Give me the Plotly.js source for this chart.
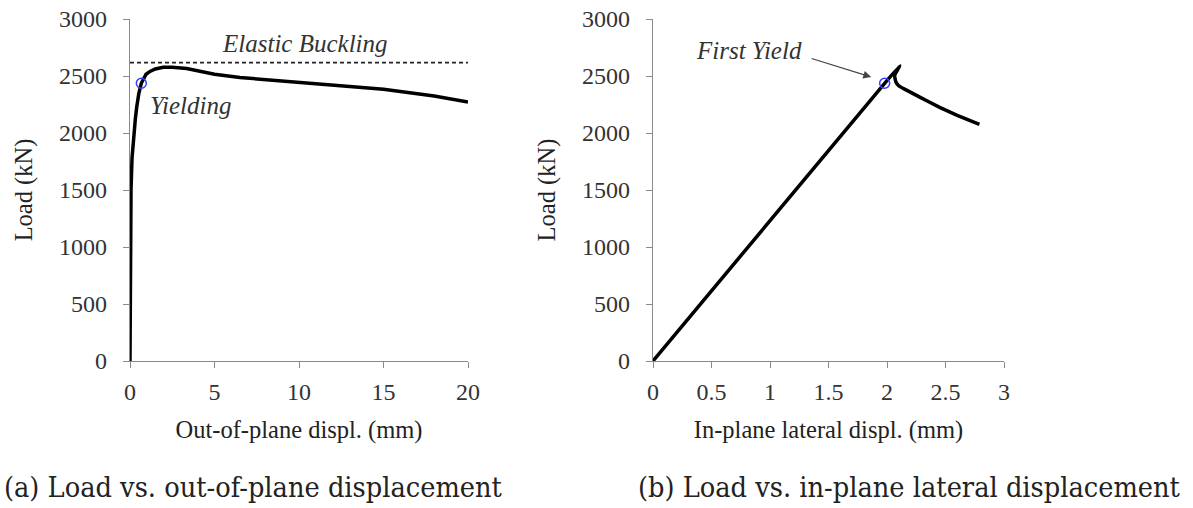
<!DOCTYPE html>
<html><head><meta charset="utf-8">
<script src="https://cdn.plot.ly/plotly-3.0.1.min.js"></script>
<style>html,body{margin:0;padding:0;background:#fff}#c{width:1193px;height:508px}</style>
</head><body><div id="c"></div>
<script>
// Left panel: load vs out-of-plane displacement
const outPlaneDispl = [0, 0.01, 0.03, 0.06, 0.12, 0.18, 0.24, 0.32, 0.4, 0.52, 0.67, 0.8, 0.95, 1.18, 1.5, 1.97, 2.5, 3.35, 4.2, 5, 6.5, 8, 10, 12, 15, 18, 20];
const outPlaneLoad  = [0, 600, 1100, 1500, 1780, 1910, 2000, 2130, 2230, 2345, 2436, 2480, 2515, 2540, 2562, 2577, 2576, 2566, 2540, 2515, 2487, 2468, 2448, 2423, 2383, 2325, 2272];
const elasticBucklingX = [0, 20];
const elasticBucklingLoad = [2617, 2617];
const yieldOutX = [0.67], yieldOutLoad = [2436];

// Right panel: load vs in-plane lateral displacement
const inPlaneDispl = [0, 1.98, 2.11, 2.065, 2.075, 2.1, 2.15, 2.28, 2.45, 2.6, 2.79];
const inPlaneLoad  = [0, 2436, 2590, 2505, 2450, 2415, 2385, 2315, 2225, 2155, 2075];
const yieldInX = [1.98], yieldInLoad = [2436];

const xTicksLeft = [0, 5, 10, 15, 20];
const xTicksRight = [0, 0.5, 1, 1.5, 2, 2.5, 3];
const yTicks = [0, 500, 1000, 1500, 2000, 2500, 3000];

const W = 1193, H = 508;
const serif = 'Liberation Serif';
const capFont = 'DejaVu Serif Condensed';
const axisGray = '#8a8a8a';
const tickFont = {family: serif, size: 24, color: '#333'};
const titleFont = {family: serif, size: 24.5, color: '#222'};
const noteFont = {family: serif, size: 25, color: '#333'};

const curve = {color: '#000', width: 3.5};
const marker = {symbol: 'circle-open', size: 10, color: '#3a3aff', line: {width: 1.5}};

const traces = [
  {x: elasticBucklingX, y: elasticBucklingLoad, mode: 'lines', line: {color: '#222', width: 1.6, dash: '4px,3px'}, xaxis: 'x', yaxis: 'y'},
  {x: outPlaneDispl, y: outPlaneLoad, mode: 'lines', line: curve, xaxis: 'x', yaxis: 'y'},
  {x: yieldOutX, y: yieldOutLoad, mode: 'markers', marker: marker, xaxis: 'x', yaxis: 'y'},
  {x: inPlaneDispl, y: inPlaneLoad, mode: 'lines', line: {...curve, shape: 'spline', smoothing: 0.3}, xaxis: 'x2', yaxis: 'y2'},
  {x: yieldInX, y: yieldInLoad, mode: 'markers', marker: marker, xaxis: 'x2', yaxis: 'y2'}
];

function xaxis(domain, range, ticks, title, anchor) {
  return {domain, range, tickvals: ticks, ticktext: ticks.map(String), showgrid: false, zeroline: false,
    showline: true, linecolor: axisGray, linewidth: 1.3, ticks: 'outside', ticklen: 6, tickcolor: axisGray,
    tickfont: tickFont, ticklabelstandoff: 3, anchor, title: {text: title, font: titleFont, standoff: 16}};
}
function yaxis(domain, anchor) {
  return {domain, range: [0, 3000], tickvals: yTicks, ticktext: yTicks.map(String), showgrid: false, zeroline: false,
    showline: true, linecolor: axisGray, linewidth: 1.3, ticks: 'outside', ticklen: 6, tickcolor: axisGray,
    tickfont: tickFont, ticklabelstandoff: 11, anchor, title: {text: 'Load (kN)', font: titleFont, standoff: 19}};
}
const yDom = [(H - 361) / H, (H - 19) / H];

const layout = {
  width: W, height: H, margin: {l: 0, r: 0, t: 0, b: 0}, showlegend: false,
  paper_bgcolor: '#fff', plot_bgcolor: '#fff',
  xaxis: xaxis([130 / W, 468 / W], [0, 20], xTicksLeft, 'Out-of-plane displ. (mm)', 'y'),
  yaxis: yaxis(yDom, 'x'),
  xaxis2: xaxis([653 / W, 1004 / W], [0, 3], xTicksRight, 'In-plane lateral displ. (mm)', 'y2'),
  yaxis2: yaxis(yDom, 'x2'),
  annotations: [
    {x: 10.36, y: 2789, xref: 'x', yref: 'y', text: '<i>Elastic Buckling</i>', showarrow: false, font: noteFont},
    {x: 3.6, y: 2245, xref: 'x', yref: 'y', text: '<i>Yielding</i>', showarrow: false, font: noteFont},
    {x: 0.823, y: 2728, xref: 'x2', yref: 'y2', text: '<i>First Yield</i>', showarrow: false, font: noteFont},
    {x: 1.864, y: 2491, xref: 'x2', yref: 'y2', ax: -61, ay: -19, text: '', showarrow: true, arrowhead: 2, arrowsize: 1.3, arrowwidth: 1.2, arrowcolor: '#444'},
    {x: 2 / W, y: 21 / H, xref: 'paper', yref: 'paper', xanchor: 'left', yanchor: 'middle', text: '(a) Load vs. out-of-plane displacement', showarrow: false, font: {family: capFont, size: 28.6, color: '#222'}},
    {x: 1183 / W, y: 21 / H, xref: 'paper', yref: 'paper', xanchor: 'right', yanchor: 'middle', text: '(b) Load vs. in-plane lateral displacement', showarrow: false, font: {family: capFont, size: 28.6, color: '#222'}}
  ]
};
Plotly.newPlot('c', traces, layout, {staticPlot: true, displayModeBar: false});
</script></body></html>
